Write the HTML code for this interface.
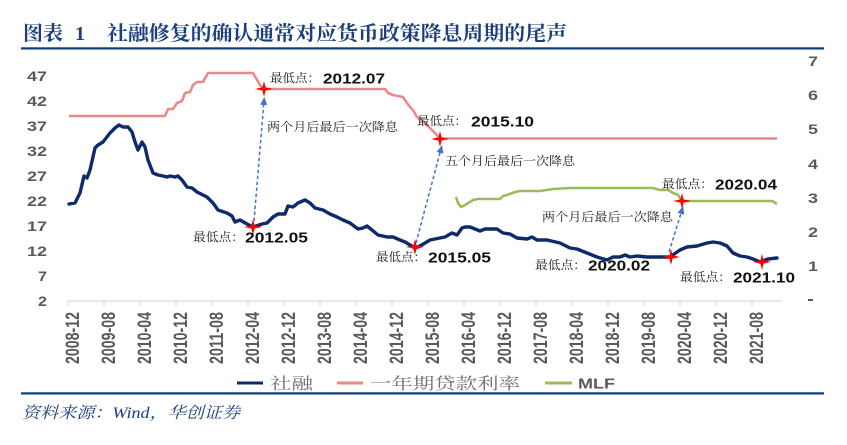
<!DOCTYPE html>
<html><head><meta charset="utf-8"><style>
html,body{margin:0;padding:0;background:#fff;}
svg{display:block;}
.cn{font-family:"Liberation Serif","Noto Serif CJK SC",serif;}
.num{font-family:"Liberation Sans","DejaVu Sans",sans-serif;font-weight:bold;}
</style></head><body>
<svg width="847" height="445" viewBox="0 0 847 445" xmlns="http://www.w3.org/2000/svg">
<defs>
<marker id="ah" markerWidth="8" markerHeight="8" refX="4" refY="4" orient="auto" markerUnits="userSpaceOnUse">
<path d="M0,0.5 L8,4 L0,7.5 Z" fill="#4472C4"/>
</marker>
<path id="st" d="M-9,0 L-1.6,-1.6 L0,-8 L1.6,-1.6 L9,0 L1.6,1.6 L0,8 L-1.6,1.6 Z" fill="#FF0000"/>
</defs>
<!-- title -->
<text x="23" y="40" class="cn" font-size="20" font-weight="bold" fill="#1B3F7C" textLength="40" lengthAdjust="spacingAndGlyphs">图表</text>
<text x="75" y="40" class="cn" font-size="20" font-weight="bold" fill="#1B3F7C">1</text>
<text x="107" y="40" class="cn" font-size="20" font-weight="bold" fill="#1B3F7C" textLength="460" lengthAdjust="spacingAndGlyphs">社融修复的确认通常对应货币政策降息周期的尾声</text>
<rect x="21" y="47.3" width="803" height="2.2" fill="#0B3A7E"/>
<!-- left axis -->
<g class="num" font-size="14" fill="#595959" text-anchor="end">
<text x="47" y="81" textLength="20" lengthAdjust="spacingAndGlyphs">47</text>
<text x="47" y="106" textLength="20" lengthAdjust="spacingAndGlyphs">42</text>
<text x="47" y="131" textLength="20" lengthAdjust="spacingAndGlyphs">37</text>
<text x="47" y="156" textLength="20" lengthAdjust="spacingAndGlyphs">32</text>
<text x="47" y="181" textLength="20" lengthAdjust="spacingAndGlyphs">27</text>
<text x="47" y="206" textLength="20" lengthAdjust="spacingAndGlyphs">22</text>
<text x="47" y="231" textLength="20" lengthAdjust="spacingAndGlyphs">17</text>
<text x="47" y="256" textLength="20" lengthAdjust="spacingAndGlyphs">12</text>
<text x="47" y="281" textLength="9" lengthAdjust="spacingAndGlyphs">7</text>
<text x="47" y="306" textLength="9" lengthAdjust="spacingAndGlyphs">2</text>
</g>
<!-- right axis -->
<g class="num" font-size="14" fill="#595959">
<text x="808" y="66" textLength="10" lengthAdjust="spacingAndGlyphs">7</text>
<text x="808" y="100" textLength="10" lengthAdjust="spacingAndGlyphs">6</text>
<text x="808" y="134" textLength="10" lengthAdjust="spacingAndGlyphs">5</text>
<text x="808" y="169" textLength="10" lengthAdjust="spacingAndGlyphs">4</text>
<text x="808" y="203" textLength="10" lengthAdjust="spacingAndGlyphs">3</text>
<text x="808" y="237" textLength="10" lengthAdjust="spacingAndGlyphs">2</text>
<text x="808" y="271" textLength="10" lengthAdjust="spacingAndGlyphs">1</text>
<rect x="808" y="299" width="5" height="2" fill="#595959"/>
</g>
<!-- x axis -->
<line x1="68" y1="301" x2="782" y2="301" stroke="#D9D9D9" stroke-width="1.2"/>
<g stroke="#D9D9D9" stroke-width="1.2">
<line x1="68" y1="301" x2="68" y2="306"/><line x1="104" y1="301" x2="104" y2="306"/><line x1="140" y1="301" x2="140" y2="306"/><line x1="176" y1="301" x2="176" y2="306"/><line x1="212" y1="301" x2="212" y2="306"/><line x1="248" y1="301" x2="248" y2="306"/><line x1="284" y1="301" x2="284" y2="306"/><line x1="320" y1="301" x2="320" y2="306"/><line x1="356" y1="301" x2="356" y2="306"/><line x1="392" y1="301" x2="392" y2="306"/><line x1="428" y1="301" x2="428" y2="306"/><line x1="464" y1="301" x2="464" y2="306"/><line x1="500" y1="301" x2="500" y2="306"/><line x1="536" y1="301" x2="536" y2="306"/><line x1="572" y1="301" x2="572" y2="306"/><line x1="608" y1="301" x2="608" y2="306"/><line x1="644" y1="301" x2="644" y2="306"/><line x1="680" y1="301" x2="680" y2="306"/><line x1="716" y1="301" x2="716" y2="306"/><line x1="752" y1="301" x2="752" y2="306"/>
</g>
<g class="num" font-size="19" fill="#595959">
<text transform="translate(79,364) rotate(-90)" textLength="52" lengthAdjust="spacingAndGlyphs">2008-12</text>
<text transform="translate(115,364) rotate(-90)" textLength="52" lengthAdjust="spacingAndGlyphs">2009-08</text>
<text transform="translate(151,364) rotate(-90)" textLength="52" lengthAdjust="spacingAndGlyphs">2010-04</text>
<text transform="translate(187,364) rotate(-90)" textLength="52" lengthAdjust="spacingAndGlyphs">2010-12</text>
<text transform="translate(223,364) rotate(-90)" textLength="52" lengthAdjust="spacingAndGlyphs">2011-08</text>
<text transform="translate(259,364) rotate(-90)" textLength="52" lengthAdjust="spacingAndGlyphs">2012-04</text>
<text transform="translate(295,364) rotate(-90)" textLength="52" lengthAdjust="spacingAndGlyphs">2012-12</text>
<text transform="translate(331,364) rotate(-90)" textLength="52" lengthAdjust="spacingAndGlyphs">2013-08</text>
<text transform="translate(367,364) rotate(-90)" textLength="52" lengthAdjust="spacingAndGlyphs">2014-04</text>
<text transform="translate(403,364) rotate(-90)" textLength="52" lengthAdjust="spacingAndGlyphs">2014-12</text>
<text transform="translate(439,364) rotate(-90)" textLength="52" lengthAdjust="spacingAndGlyphs">2015-08</text>
<text transform="translate(475,364) rotate(-90)" textLength="52" lengthAdjust="spacingAndGlyphs">2016-04</text>
<text transform="translate(511,364) rotate(-90)" textLength="52" lengthAdjust="spacingAndGlyphs">2016-12</text>
<text transform="translate(547,364) rotate(-90)" textLength="52" lengthAdjust="spacingAndGlyphs">2017-08</text>
<text transform="translate(583,364) rotate(-90)" textLength="52" lengthAdjust="spacingAndGlyphs">2018-04</text>
<text transform="translate(619,364) rotate(-90)" textLength="52" lengthAdjust="spacingAndGlyphs">2018-12</text>
<text transform="translate(655,364) rotate(-90)" textLength="52" lengthAdjust="spacingAndGlyphs">2019-08</text>
<text transform="translate(691,364) rotate(-90)" textLength="52" lengthAdjust="spacingAndGlyphs">2020-04</text>
<text transform="translate(727,364) rotate(-90)" textLength="52" lengthAdjust="spacingAndGlyphs">2020-12</text>
<text transform="translate(763,364) rotate(-90)" textLength="52" lengthAdjust="spacingAndGlyphs">2021-08</text>
</g>
<!-- series -->
<polyline fill="none" stroke="#E8898A" stroke-width="2.6" stroke-linejoin="round" points="69,116 165,116 168,109 173,109 177,103 182,101 185,93 190,92 193,85 197,82 203,82 208,73 212,73 253,73 260,85 263,89 385,89 388,93 393,95 403,97 407,103 410,107 413,110 417,117 422,120 427,125 432,130 435,133 440,138.5 777,138.5"/>
<polyline fill="none" stroke="#9BBB59" stroke-width="2.6" stroke-linejoin="round" points="456,197 458,203 461,207 465,205 473,200 478,199 500,199 503,196 507,195 515,192 520,191 540,191 553,189 570,188 653,188 660,190 668,190 673,193 678,195 682,201 772,201 777,204"/>
<polyline fill="none" stroke="#0D2A6B" stroke-width="3.4" stroke-linejoin="round" stroke-linecap="round" points="69,204 75,203 80,193 84,176 87,178 90,170 95,148 98,145 103,142 110,133 115,128 119,125 123,127 128,127 132,132 135,142 138,150 142,142 145,147 148,160 153,173 158,175 163,176 167,177 170,176 175,177 178,176 182,180 187,187 192,188 197,192 207,197 213,203 218,210 227,213 232,216 235,222 240,220 247,224 253,227 262,224 267,223 273,217 278,214 285,214 288,206 293,207 298,203 305,200 310,203 315,208 323,210 330,214 337,217 343,220 350,223 358,229 363,228 367,226 372,230 378,235 387,237 393,237 400,240 405,242 415,248 420,246 430,240 440,238 445,237 452,233 457,235 462,228 465,227 470,227 480,231 485,229 497,229 503,233 510,234 517,238 527,239 532,237 537,240 547,240 560,243 570,248 577,249 587,253 597,257 607,260 613,257 620,257 625,255 630,257 637,256 647,257 660,257 670,257 680,250 687,247 697,246 707,243 713,242 720,243 727,246 733,253 740,256 747,257 753,259 760,262 768,259 777,258"/>
<!-- arrows -->
<g stroke="#4472C4" stroke-width="1.5" stroke-dasharray="3.5 2.5" fill="none">
<line x1="254" y1="221" x2="264" y2="101" marker-end="url(#ah)"/>
<line x1="416" y1="243" x2="441" y2="149" marker-end="url(#ah)"/>
<line x1="669" y1="252" x2="682" y2="210" marker-end="url(#ah)"/>
</g>
<!-- stars -->
<use href="#st" x="264" y="89"/>
<use href="#st" x="440" y="139"/>
<use href="#st" x="253" y="227"/>
<use href="#st" x="415" y="247"/>
<use href="#st" x="671" y="257"/>
<use href="#st" x="682" y="201"/>
<use href="#st" x="762" y="262"/>
<!-- annotations -->
<g class="cn" font-size="12" fill="#222">
<text x="270" y="82" textLength="50" lengthAdjust="spacingAndGlyphs">最低点：</text>
<text x="267" y="131" textLength="131" lengthAdjust="spacingAndGlyphs">两个月后最后一次降息</text>
<text x="193" y="241" textLength="51" lengthAdjust="spacingAndGlyphs">最低点：</text>
<text x="376" y="261" textLength="50" lengthAdjust="spacingAndGlyphs">最低点：</text>
<text x="417" y="125" textLength="50" lengthAdjust="spacingAndGlyphs">最低点：</text>
<text x="445" y="165" textLength="130" lengthAdjust="spacingAndGlyphs">五个月后最后一次降息</text>
<text x="662" y="188" textLength="51" lengthAdjust="spacingAndGlyphs">最低点：</text>
<text x="542" y="221" textLength="131" lengthAdjust="spacingAndGlyphs">两个月后最后一次降息</text>
<text x="535" y="269" textLength="51" lengthAdjust="spacingAndGlyphs">最低点：</text>
<text x="680" y="281" textLength="51" lengthAdjust="spacingAndGlyphs">最低点：</text>
</g>
<g class="num" font-size="15" fill="#111">
<text x="323" y="83.5" textLength="62" lengthAdjust="spacingAndGlyphs">2012.07</text>
<text x="245" y="242.5" textLength="63" lengthAdjust="spacingAndGlyphs">2012.05</text>
<text x="428" y="262.5" textLength="63" lengthAdjust="spacingAndGlyphs">2015.05</text>
<text x="471" y="126.5" textLength="63" lengthAdjust="spacingAndGlyphs">2015.10</text>
<text x="715" y="189.5" textLength="62" lengthAdjust="spacingAndGlyphs">2020.04</text>
<text x="588" y="270.5" textLength="62" lengthAdjust="spacingAndGlyphs">2020.02</text>
<text x="733" y="282.5" textLength="62" lengthAdjust="spacingAndGlyphs">2021.10</text>
</g>
<!-- legend -->
<line x1="237" y1="383" x2="263" y2="383" stroke="#0D2A6B" stroke-width="3"/>
<text x="270" y="389" class="cn" font-size="16" fill="#6F6F6F" textLength="43" lengthAdjust="spacingAndGlyphs">社融</text>
<line x1="337" y1="383" x2="363" y2="383" stroke="#E8898A" stroke-width="3"/>
<text x="370" y="389" class="cn" font-size="16" fill="#6F6F6F" textLength="150" lengthAdjust="spacingAndGlyphs">一年期贷款利率</text>
<line x1="545" y1="383" x2="572" y2="383" stroke="#9BBB59" stroke-width="3"/>
<text x="578" y="388.5" class="num" font-size="15" fill="#595959" textLength="37" lengthAdjust="spacingAndGlyphs">MLF</text>
<rect x="21" y="392.3" width="803" height="2.2" fill="#0B3A7E"/>
<!-- source -->
<text x="22" y="418" class="cn" font-size="16" font-style="italic" fill="#1B3F7C" textLength="218" lengthAdjust="spacingAndGlyphs">资料来源：Wind，华创证券</text>
</svg>
</body></html>
